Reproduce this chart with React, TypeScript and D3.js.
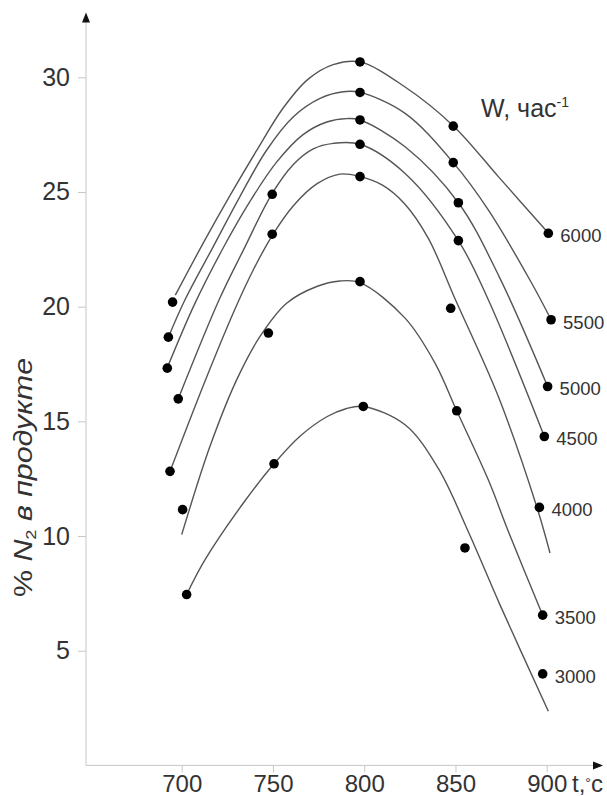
import React, { useEffect, useRef } from 'react';
import * as d3 from 'd3';

// space velocity W, 1/h — one curve per value
const speeds = ['6000', '5500', '5000', '4500', '4000', '3500', '3000'];

const xTicks = [700, 750, 800, 850, 900];
const yTicks = [5, 10, 15, 20, 25, 30];

// measured points: temperature, % N2
const pointT = [
    [695, 797.7, 848.8, 900.9],
    [692.7, 797.7, 848.8, 902.4],
    [692.1, 797.7, 851.6, 900.5],
    [698.1, 749.6, 797.7, 851.6, 898.7],
    [693.6, 749.6, 797.7, 847.4, 896],
    [700.5, 747.5, 797.7, 850.7, 897.8],
    [702.7, 750.6, 799.5, 855.2, 897.8],
];
const pointV = [
    [20.2, 30.67, 27.87, 23.2],
    [18.67, 29.34, 26.28, 19.43],
    [17.32, 28.14, 24.53, 16.52],
    [15.98, 24.9, 27.08, 22.88, 14.34],
    [12.82, 23.16, 25.67, 19.93, 11.25],
    [11.15, 18.85, 21.09, 15.46, 6.55],
    [7.45, 13.15, 15.65, 9.48, 3.99],
];

// hand-drawn smoothing curves
const fitT = [
    [696.5, 712, 726.5, 741, 755.5, 769, 783, 797.5, 822, 849, 873.5, 901],
    [692.7, 701.8, 717.3, 731.9, 746.6, 761.2, 775.8, 788.5, 797.7, 822.4, 848.8, 868, 891.8, 902.4],
    [692, 707, 723, 737.5, 752, 766.5, 779.5, 790.5, 797.7, 822.4, 851.6, 874, 900.5],
    [698.1, 720.5, 734, 749.3, 761.2, 772.1, 783.1, 797.7, 822.4, 851.6, 868, 898.7],
    [693.6, 712, 729.2, 739.2, 749.6, 761.2, 774, 786.7, 797.7, 810, 822, 835, 850, 873.5, 894.5, 901.8],
    [700, 715.5, 730.1, 742.9, 757.5, 774, 786.7, 797.7, 822.4, 838.8, 850.7, 868, 879, 897.8],
    [702.7, 712.8, 733.8, 750.6, 764.8, 779.5, 790, 799.5, 822.4, 840.6, 857, 874.4, 900.9],
];
const fitV = [
    [20.5, 22.8, 24.85, 26.8, 28.65, 29.9, 30.55, 30.67, 29.6, 27.87, 25.67, 23.2],
    [18.67, 20.3, 22.62, 24.8, 26.83, 28.28, 29.08, 29.37, 29.34, 28.43, 26.28, 24.22, 21.02, 19.43],
    [17.32, 20.1, 22.6, 24.6, 26.3, 27.5, 28.05, 28.2, 28.14, 26.97, 24.53, 21.3, 16.52],
    [15.98, 20.3, 22.5, 24.9, 26.2, 26.88, 27.12, 27.08, 25.81, 22.88, 20.3, 14.34],
    [12.82, 16.6, 19.9, 21.6, 23.1, 24.4, 25.35, 25.78, 25.67, 25.3, 24.5, 23.0, 20.3, 16.08, 11.29, 9.26],
    [10.06, 13.91, 16.81, 18.7, 20.15, 20.88, 21.12, 21.05, 19.5, 17.54, 15.46, 12.45, 10.2, 6.55],
    [7.45, 8.97, 11.44, 13.15, 14.35, 15.2, 15.55, 15.65, 14.85, 12.95, 10.2, 7.0, 2.36],
];

const FONT = "'Liberation Sans', Arial, sans-serif";

const App = () => {
    const ref = useRef<SVGSVGElement>(null);

    useEffect(() => {
        const axisX = 86;

        const svg = d3.select(ref.current);
        svg.selectAll('*').remove();

        const x = d3.scaleLinear().domain([700, 900]).range([181.7, 546.7]);
        const y = d3.scaleLinear().domain([0, 30]).range([765.4, 77.3]);
        const y0 = y(0);

        // axes lines with arrow heads
        svg.append('line')
            .attr('x1', axisX).attr('x2', axisX)
            .attr('y1', y0).attr('y2', 20)
            .attr('stroke', '#c8c8c8');
        svg.append('line')
            .attr('x1', axisX).attr('x2', 596)
            .attr('y1', y0).attr('y2', y0)
            .attr('stroke', '#c8c8c8');
        svg.append('path')
            .attr('d', `M${axisX},12.5 L${axisX - 4},22.5 L${axisX + 4},22.5 Z`)
            .attr('fill', '#111');
        svg.append('path')
            .attr('d', `M603,${y0} L593,${y0 - 4} L593,${y0 + 4} Z`)
            .attr('fill', '#111');

        const yAxis = svg.append('g')
            .attr('transform', `translate(${axisX},0)`)
            .call(d3.axisLeft(y).tickValues(yTicks).tickSize(8).tickSizeOuter(0).tickFormat(d3.format('d')));
        yAxis.select('.domain').remove();
        yAxis.selectAll('line').attr('stroke', '#c8c8c8');
        yAxis.selectAll('text')
            .attr('x', -16)
            .attr('font-size', 25)
            .attr('font-family', FONT)
            .attr('fill', '#333');

        const xAxis = svg.append('g')
            .attr('transform', `translate(0,${y0})`)
            .call(d3.axisBottom(x).tickValues(xTicks).tickSize(7).tickSizeOuter(0).tickFormat(d3.format('d')));
        xAxis.select('.domain').remove();
        xAxis.selectAll('line').attr('stroke', '#c8c8c8');
        xAxis.selectAll('text')
            .attr('y', 26.6)
            .attr('dy', 0)
            .attr('font-size', 24)
            .attr('font-family', FONT)
            .attr('fill', '#333');

        // x axis unit
        const tl = svg.append('text')
            .attr('x', 572).attr('y', 792)
            .attr('font-size', 24)
            .attr('font-family', FONT)
            .attr('fill', '#333');
        tl.append('tspan').text('t,');
        tl.append('tspan').attr('font-size', 14).attr('dy', -4).text('°');
        tl.append('tspan').attr('dy', 4).text('c');

        // y axis title
        const yl = svg.append('text')
            .attr('transform', 'translate(32,477.5) rotate(-90)')
            .attr('text-anchor', 'middle')
            .attr('font-size', 25)
            .attr('font-family', FONT)
            .attr('fill', '#333')
            .attr('textLength', 239)
            .attr('lengthAdjust', 'spacingAndGlyphs');
        yl.append('tspan').text('% ');
        yl.append('tspan').attr('font-style', 'italic').text('N');
        yl.append('tspan').attr('font-size', 15).attr('dy', 4).text('2');
        yl.append('tspan').attr('font-style', 'italic').attr('dy', -4).text(' в продукте');

        // legend title
        const wl = svg.append('text')
            .attr('x', 481).attr('y', 117)
            .attr('font-size', 25)
            .attr('font-family', FONT)
            .attr('fill', '#333');
        wl.append('tspan').text('W, час');
        wl.append('tspan').attr('font-size', 14).attr('dy', -10).text('-1');

        const line = d3.line<[number, number]>()
            .x((d) => x(d[0]))
            .y((d) => y(d[1]))
            .curve(d3.curveCatmullRom.alpha(0.5));

        speeds.forEach((s, i) => {
            const fit = fitT[i].map((t, j) => [t, fitV[i][j]] as [number, number]);
            svg.append('path')
                .attr('d', line(fit))
                .attr('fill', 'none')
                .attr('stroke', '#555')
                .attr('stroke-width', 1.4);

            const pts = pointT[i].map((t, j) => [t, pointV[i][j]] as [number, number]);
            svg.selectAll(null)
                .data(pts)
                .enter()
                .append('circle')
                .attr('cx', (d) => x(d[0]))
                .attr('cy', (d) => y(d[1]))
                .attr('r', 4.8)
                .attr('fill', '#000');

            const last = pts[pts.length - 1];
            svg.append('text')
                .attr('x', x(last[0]) + 12)
                .attr('y', y(last[1]) + 9)
                .attr('font-size', 18.5)
                .attr('font-family', FONT)
                .attr('fill', '#333')
                .text(s);
        });
    }, []);

    return (
        <svg ref={ref} width={607} height={796}
             style={{position: 'absolute', left: 0, top: 0, background: '#fff'}}/>
    );
};

export default App;
